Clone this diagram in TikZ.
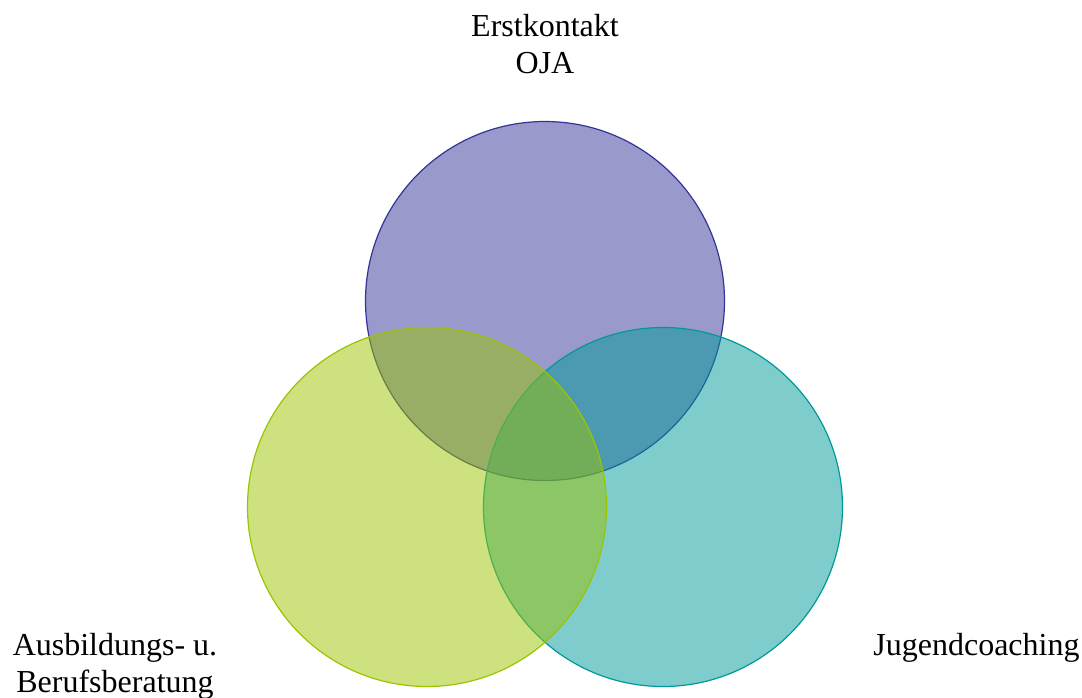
\documentclass[tikz,border=0pt]{standalone}
\usepackage{fontspec}
\setmainfont{Liberation Serif}
\usepackage{tikz}
\usetikzlibrary{positioning}
\definecolor{ojaline}{HTML}{333399}
\definecolor{ojafill}{HTML}{333399}
\definecolor{abbline}{HTML}{9BC400}
\definecolor{abbfill}{HTML}{9BC400}
\definecolor{jcline}{HTML}{009999}
\definecolor{jcfill}{HTML}{009999}
\tikzset{
  ring/.style={circle,inner sep=0pt,outer sep=0pt,minimum size=179.5pt,fill opacity=0.5,line width=0.6pt},
  oja/.style={ring,draw=ojaline,fill=ojafill},
  abb/.style={ring,draw=abbline,fill=abbfill},
  jc/.style={ring,draw=jcline,fill=jcfill},
  lbl/.style={font=\fontsize{16}{18.5}\selectfont,align=center,inner sep=0pt,text=black},
}
\begin{document}
\begin{tikzpicture}[x=0.5pt,y=-0.5pt]
  \useasboundingbox (0,0) rectangle (1082,697);
  \node[oja] (top) at (545,301) {};
  \node[jc] (right) at (663,507) {};
  \node[abb] (left) at (427,507) {};
  \node[lbl,anchor=base] (tlbl) at (545,73) {Erstkontakt\\OJA};
  \node[lbl,anchor=base] (llbl) at (115,692) {Ausbildungs- u.\\Berufsberatung};
  \node[lbl,anchor=base west] (rlbl) at (873,655) {Jugendcoaching};
\end{tikzpicture}
\end{document}
